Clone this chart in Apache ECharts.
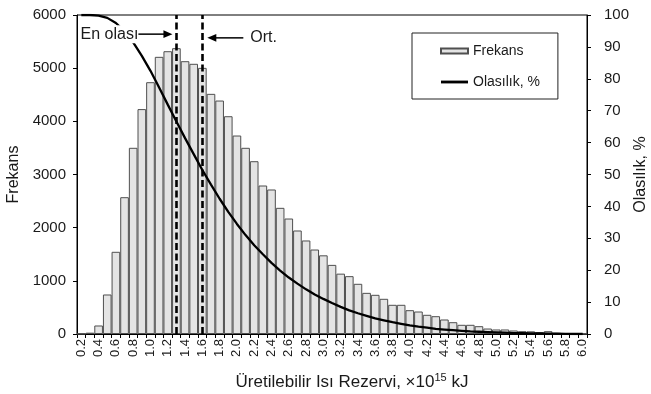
<!DOCTYPE html>
<html>
<head>
<meta charset="utf-8">
<script src="https://cdn.jsdelivr.net/npm/echarts@6/dist/echarts.min.js"></script>
<style>
html,body{margin:0;padding:0;background:#fff;}
#chart{width:651px;height:394px;}
</style>
</head>
<body>
<div id="chart"></div>
<script>
const categories = ['0.2','0.3','0.4','0.5','0.6','0.7','0.8','0.9','1.0','1.1','1.2','1.3','1.4','1.5','1.6','1.7','1.8','1.9','2.0','2.1','2.2','2.3','2.4','2.5','2.6','2.7','2.8','2.9','3.0','3.1','3.2','3.3','3.4','3.5','3.6','3.7','3.8','3.9','4.0','4.1','4.2','4.3','4.4','4.5','4.6','4.7','4.8','4.9','5.0','5.1','5.2','5.3','5.4','5.5','5.6','5.7','5.8','5.9','6.0'];
const frequency = [5,25,160,743,1546,2573,3502,4230,4736,5213,5319,5376,5131,5082,5006,4517,4391,4096,3733,3502,3250,2793,2718,2373,2172,1947,1759,1589,1480,1300,1135,1088,944,774,737,662,549,549,448,423,361,335,273,222,173,173,147,103,85,85,66,53,50,35,53,22,15,10,5];
const probability = [100,100,99.8,99.1,97.5,94.9,91.4,87.2,82.5,77.3,71.9,66.6,61.4,56.4,51.4,46.8,42.4,38.3,34.5,31.0,27.8,25.0,22.3,19.9,17.7,15.8,14.0,12.4,11.0,9.7,8.5,7.4,6.5,5.7,4.9,4.3,3.7,3.2,2.7,2.3,2.0,1.6,1.4,1.2,1.0,0.8,0.7,0.6,0.5,0.4,0.3,0.3,0.2,0.2,0.1,0.1,0.05,0,0];
const markers = ['1.3','1.6'];           // En olası (mode), Ort. (mean)
const annotationTexts = ['En olası','Ort.'];
const seriesNames = ['Frekans','Olasılık, %'];
const leftAxisTitle = 'Frekans';
const rightAxisTitle = 'Olasılık, %';

const FONT = 'Liberation Sans, Arial, sans-serif';
const TXT = '#1a1a1a';

const chart = echarts.init(document.getElementById('chart'), null, {renderer:'canvas'});

const option = {
  animation: false,
  textStyle: {fontFamily: FONT, color: TXT},
  grid: {left: 77, right: 64, top: 15, bottom: 60, show: true, borderColor: '#000', borderWidth: 1,
         containLabel: false, outerBoundsMode: 'none'},
  legend: {
    orient: 'vertical', left: 412, top: 33,
    itemWidth: 27, itemHeight: 5, itemGap: 17,
    borderColor: '#222', borderWidth: 1,
    padding: [11, 18, 10, 28],
    textStyle: {fontSize: 14, color: TXT, fontFamily: FONT},
    data: [
      {name: seriesNames[0], icon: 'rect'},
      {name: seriesNames[1], icon: 'path://M0,0H40V4.2H0Z', itemStyle: {color: '#000', borderWidth: 0}}
    ]
  },
  xAxis: {
    type: 'category', data: categories, boundaryGap: true,
    name: '{t|Üretilebilir Isı Rezervi, ×10}{s|15}{t| kJ}',
    nameLocation: 'middle', nameGap: 38,
    nameTextStyle: {padding: [0, 0, 0, 40], rich: {t: {fontSize: 17, color: TXT, fontFamily: FONT}, s: {fontSize: 11, color: TXT, fontFamily: FONT, padding: [0,0,9,0]}}},
    axisLine: {lineStyle: {color: '#000', width: 1}},
    axisTick: {show: true, interval: 0, length: 4, lineStyle: {color: '#000'}},
    axisLabel: {interval: 1, rotate: 90, fontSize: 13, margin: 5, color: TXT},
    splitLine: {show: false}
  },
  yAxis: [{
    type: 'value', min: 0, max: 6000, interval: 1000,
    name: leftAxisTitle, nameLocation: 'middle', nameGap: 55, nameRotate: 90, nameMoveOverlap: false,
    nameTextStyle: {fontSize: 16, color: TXT},
    axisLine: {show: true, lineStyle: {color: '#000', width: 1}},
    axisTick: {show: true, length: 4, lineStyle: {color: '#000'}},
    axisLabel: {fontSize: 15, margin: 11, color: TXT, formatter: v => String(v)},
    splitLine: {show: false}
  }, {
    type: 'value', min: 0, max: 100, interval: 10, position: 'right',
    name: rightAxisTitle, nameLocation: 'middle', nameGap: 46, nameRotate: 90, nameMoveOverlap: false,
    nameTextStyle: {fontSize: 16, color: TXT},
    axisLine: {show: true, lineStyle: {color: '#000', width: 1}},
    axisTick: {show: true, length: 4, lineStyle: {color: '#000'}},
    axisLabel: {fontSize: 15, margin: 17, color: TXT},
    splitLine: {show: false}
  }],
  series: [{
    name: seriesNames[0], type: 'bar', yAxisIndex: 0, data: frequency,
    barCategoryGap: '0%',
    itemStyle: {color: '#e4e4e4', borderColor: '#4f4f4f', borderWidth: 1},
    z: 2,
    markLine: {
      silent: true, symbol: 'none', animation: false,
      label: {show: false},
      lineStyle: {color: '#000', width: 2.6, type: [7, 3.5]},
      data: markers.map(c => ({xAxis: c}))
    }
  }, {
    name: seriesNames[1], type: 'line', yAxisIndex: 1, data: probability,
    symbol: 'none', smooth: false,
    lineStyle: {color: '#000', width: 2.3},
    itemStyle: {color: '#000'},
    z: 5
  }]
};
chart.setOption(option);

// annotations anchored to the marker categories
const xMode = chart.convertToPixel({xAxisIndex: 0}, categories.indexOf(markers[0]));
const xMean = chart.convertToPixel({xAxisIndex: 0}, categories.indexOf(markers[1]));
const yA = chart.convertToPixel({yAxisIndex: 0}, 5640);
const yB = chart.convertToPixel({yAxisIndex: 0}, 5570);
function arrow(x1, x2, y) {
  const dir = x2 > x1 ? 1 : -1;
  return [
    {type: 'line', shape: {x1: x1, y1: y, x2: x2 - dir * 6, y2: y}, style: {stroke: '#000', lineWidth: 1.5}, z: 20},
    {type: 'polygon', shape: {points: [[x2, y], [x2 - dir * 9, y - 3.8], [x2 - dir * 9, y + 3.8]]}, style: {fill: '#000'}, z: 20}
  ];
}
chart.setOption({
  graphic: [
    {type: 'text', x: xMode - 38, y: yA, z: 21,
     style: {text: annotationTexts[0], font: '16px ' + FONT, fill: TXT, align: 'right', verticalAlign: 'middle', backgroundColor: '#fff', padding: [1, 0, 1, 1]}},
    ...arrow(xMode - 39, xMode - 4, yA),
    {type: 'text', x: xMean + 48, y: yB, z: 21,
     style: {text: annotationTexts[1], font: '16px ' + FONT, fill: TXT, align: 'left', verticalAlign: 'middle'}},
    ...arrow(xMean + 41, xMean + 5, yB)
  ]
});
</script>
</body>
</html>
